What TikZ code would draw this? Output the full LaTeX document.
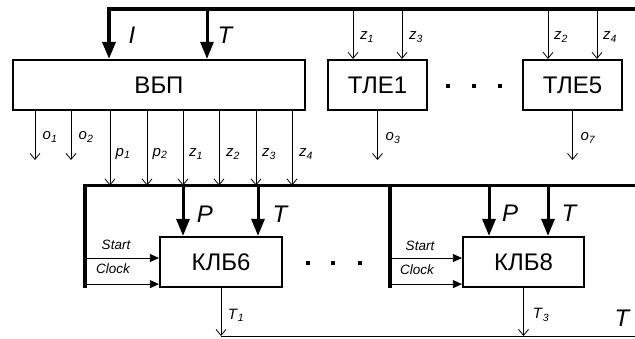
\documentclass[tikz,border=0pt]{standalone}
\usepackage{fontspec}
\setmainfont{Liberation Sans}
\usetikzlibrary{positioning, arrows.meta}

\newcommand{\sig}[2]{\textit{#1}\textsubscript{\textit{#2}}}

\tikzset{
  blk/.style={draw, line width=2.2pt, minimum height=50pt, inner sep=0pt, font=\fontsize{24}{26}\selectfont},
  bus/.style={line width=3.5pt},
  bigarr/.style={line width=3pt, -{Triangle[length=17pt,width=13pt]}},
  sm/.style={line width=0.8pt, -{Straight Barb[length=6pt,width=10pt,line width=0.8pt]}},
  med/.style={line width=0.8pt, -{Triangle[length=9pt,width=8pt]}},
  lbl/.style={font=\fontsize{15}{16}\selectfont},
  sc/.style={font=\fontsize{13.5}{14}\selectfont\itshape},
  big/.style={font=\fontsize{24}{26}\selectfont\itshape},
  dot/.style={fill, minimum size=4.5pt, inner sep=0pt},
}

\begin{document}
\begin{tikzpicture}[x=1pt, y=-1pt]
        \useasboundingbox (0,0) rectangle (635,338);
        % blocks
        \node (vbp) [blk, minimum width=292pt] at (159,85) {ВБП};
        \node (tle1) [blk, minimum width=99pt] at (377.5,85) {ТЛЕ1};
        \node (tle5) [blk, minimum width=99pt] at (572.5,85) {ТЛЕ5};
        \node (klb6) [blk, minimum width=122pt] at (221,262) {КЛБ6};
        \node (klb8) [blk, minimum width=121pt] at (523.5,262) {КЛБ8};
        \foreach \x [count=\i] in {448,474,500} \node (dt\i) [dot] at (\x,86) {};
        \foreach \x [count=\i] in {308,333,360} \node (db\i) [dot] at (\x,263) {};

        % upper bus
        \coordinate (tb) at (109,9);
        \coordinate (tbe) at (635,9);
        \coordinate (tT) at (207,9);
        \draw [bus, -{Triangle[length=17pt,width=13pt]}] (tbe) -- (tb) -- (tb |- vbp.north);
        \draw [bigarr] (tT) -- (tT |- vbp.north);
        \node (lI) [big] at (132,35) {I};
        \node (lT) [big] at (225,35) {T};
        \foreach \b in {tle1,tle5}
          \foreach \d in {-24.5,24.5}
            \draw [sm] ([xshift=\d pt]\b.north |- tb) -- ([xshift=\d pt]\b.north);
        \node (lz1) [lbl] at (367,37) {\sig{z}{1}};
        \node (lz3) [lbl] at (416,37) {\sig{z}{3}};
        \node (lz2) [lbl] at (561,37) {\sig{z}{2}};
        \node (lz4) [lbl] at (610,37) {\sig{z}{4}};
        \coordinate (ob) at (0,160);
        \draw [sm] (tle1.south) -- (tle1.south |- ob);
        \draw [sm] (tle5.south) -- (tle5.south |- ob);
        \node (lo3) [lbl] at (393,138) {\sig{o}{3}};
        \node (lo7) [lbl] at (588,138) {\sig{o}{7}};

        % outputs of VBP
        \coordinate (lb) at (85,185.5);
        \draw [sm] (vbp.south -| 35,0) -- (ob -| 35,0);
        \draw [sm] (vbp.south -| 71,0) -- (ob -| 71,0);
        \foreach \x in {110,147,183,219,256,292}
          \draw [sm] (vbp.south -| \x,0) -- (lb -| \x,0);
        \node (lo1) [lbl] at (50,137) {\sig{o}{1}};
        \node (lo2) [lbl] at (86,137) {\sig{o}{2}};
        \node (lp1) [lbl] at (123,154) {\sig{p}{1}};
        \node (lp2) [lbl] at (160,154) {\sig{p}{2}};
        \node (lza) [lbl] at (196,154) {\sig{z}{1}};
        \node (lzb) [lbl] at (233,154) {\sig{z}{2}};
        \node (lzc) [lbl] at (269,154) {\sig{z}{3}};
        \node (lzd) [lbl] at (306,154) {\sig{z}{4}};

        % lower bus
        \coordinate (lbe) at (635,185.5);
        \coordinate (lb2) at (390,185.5);
        \draw [bus] (lbe) -- (lb) -- (lb |- klb6.south);
        \draw [bus] (lb2) -- (lb2 |- klb8.south);
        \foreach \b/\p/\t in {klb6/183/258, klb8/489/548} {
          \draw [bigarr] (lb -| \p,0) -- (\b.north -| \p,0);
          \draw [bigarr] (lb -| \t,0) -- (\b.north -| \t,0);
        }
        \node (lP6) [big] at (205,214) {P};
        \node (lT6) [big] at (280,214) {T};
        \node (lP8) [big] at (510,213) {P};
        \node (lT8) [big] at (569,213) {T};

        % start / clock
        \coordinate (st6) at ([yshift=4pt]klb6.west);
        \coordinate (ck6) at ([yshift=4pt]klb6.south west);
        \coordinate (st8) at ([yshift=4pt]klb8.west);
        \coordinate (ck8) at ([yshift=4pt]klb8.south west);
        \draw [med] (st6 -| lb) -- (st6);
        \draw [med] (ck6 -| lb) -- (ck6);
        \draw [med] (st8 -| lb2) -- (st8);
        \draw [med] (ck8 -| lb2) -- (ck8);
        \node (ls6) [sc] at (116,245) {Start};
        \node (lc6) [sc] at (113,269) {Clock};
        \node (ls8) [sc] at (420,246) {Start};
        \node (lc8) [sc] at (417,270) {Clock};

        % T outputs
        \coordinate (rt) at (635,336);
        \draw [line width=0.8pt] (rt) -- (rt -| klb6.south);
        \draw [sm] (klb6.south) -- (klb6.south |- rt);
        \draw [sm] (klb8.south) -- (klb8.south |- rt);
        \node (lT1) [lbl] at (236,315) {\sig{T}{1}};
        \node (lT3) [lbl] at (541,315) {\sig{T}{3}};
        \node (lTo) [big] at (622,318) {T};
    \end{tikzpicture}
\end{document}
